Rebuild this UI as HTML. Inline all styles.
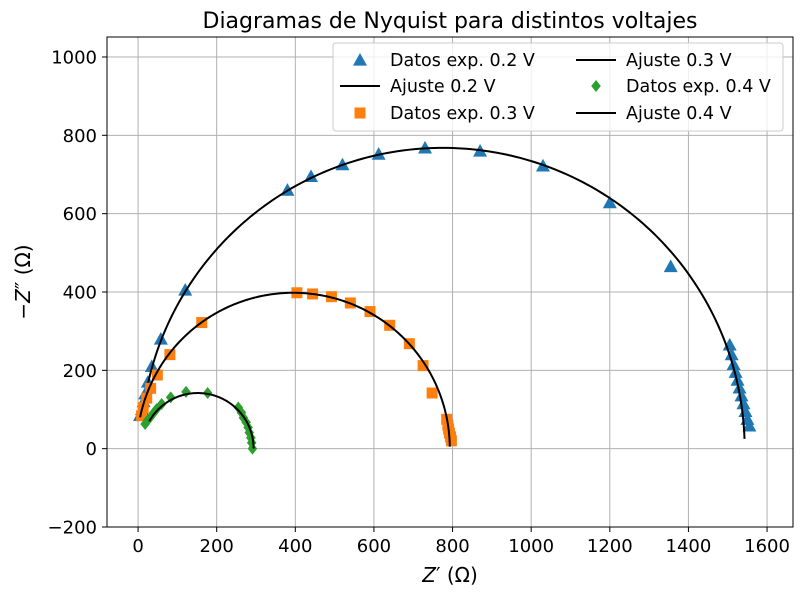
<!DOCTYPE html>
<html><head><meta charset="utf-8"><style>
body{margin:0;background:#fff;font-family:"Liberation Sans","DejaVu Sans",sans-serif;}
svg text{font-family:"DejaVu Sans","Liberation Sans",sans-serif;}
</style></head><body>
<svg id="chart" width="802" height="596" xmlns="http://www.w3.org/2000/svg"></svg>
<script>
const xTicks=[0,200,400,600,800,1000,1200,1400,1600];
const yTicks=[-200,0,200,400,600,800,1000];
const x02=[5,10,14,18,25,35,58,120,380,440,520,612,730,870,1030,1200,1355,1505,1510,1515,1520,1525,1530,1535,1540,1545,1550,1555];
const y02=[85,100,120,140,170,210,280,405,660,695,725,752,768,760,722,628,465,265,240,215,195,175,155,135,115,95,75,58];
const x03=[9,13,22,32,49,81,162,404,444,492,540,590,640,690,725,748,785,788,790,792,795,797];
const y03=[84,105,129,154,188,240,322,398,395,388,372,350,315,268,212,142,75,60,50,40,30,20];
const x04=[18,24,31,40,47,60,83,122,177,255,263,268,275,280,283,287,289,291];
const y04=[63,72,80,92,101,114,131,145,142,105,92,79,67,54,41,28,15,0];
const fitCx=[775,395,152];
const fitR=[768,398,142];
const fitYStart=[75,80,70];
const fitYEnd=[25,5,0];
const NS="http://www.w3.org/2000/svg";
const svg=document.getElementById('chart');
const L=107,R=793,T=37,B=527;
const xmin=-79,xmax=1666,ymin=-200,ymax=1051;
const sx=v=>L+(v-xmin)/(xmax-xmin)*(R-L);
const sy=v=>B-(v-ymin)/(ymax-ymin)*(B-T);
function el(t,a,p){const e=document.createElementNS(NS,t);for(const k in a)e.setAttribute(k,a[k]);(p||svg).appendChild(e);return e;}
const grid=el('g',{});


xTicks.forEach(v=>{
 const g=el('line',{x1:sx(v),x2:sx(v),y1:T,y2:B,stroke:'#b0b0b0','stroke-width':1},grid);
 
 
 el('line',{x1:sx(v),x2:sx(v),y1:B,y2:B+5,stroke:'#000'});
 const t=el('text',{x:sx(v),y:B+25,'text-anchor':'middle','font-size':18});
 t.textContent=v<0?'−'+(-v):v;
 
 
});
yTicks.forEach(v=>{
 const g=el('line',{x1:L,x2:R,y1:sy(v),y2:sy(v),stroke:'#b0b0b0','stroke-width':1},grid);
 
 
 el('line',{x1:L-5,x2:L,y1:sy(v),y2:sy(v),stroke:'#000'});
 const t=el('text',{x:L-10,y:sy(v)+6.5,'text-anchor':'end','font-size':18});
 t.textContent=v<0?'−'+(-v):v;
 
 
});
function fit(i,name){
 const cx=fitCx[i],r=fitR[i];
 const a0=Math.PI-Math.asin(fitYStart[i]/r),a1=Math.asin(fitYEnd[i]/r);
 let d='';
 for(let k=0;k<=200;k++){const a=a0+(a1-a0)*k/200;d+=(k?'L':'M')+sx(cx+r*Math.cos(a)).toFixed(2)+','+sy(r*Math.sin(a)).toFixed(2);}
 const p=el('path',{d:d,fill:'none',stroke:'#000','stroke-width':2});
 
 
}
function tri(x,y,s,c,p){return el('polygon',{points:`${x},${y-s} ${x-s},${y+s*0.8} ${x+s},${y+s*0.8}`,fill:c},p);}
function sq(x,y,s,c,p){return el('rect',{x:x-s,y:y-s,width:2*s,height:2*s,fill:c},p);}
function dia(x,y,s,c,p){return el('polygon',{points:`${x},${y-s} ${x+s*0.8},${y} ${x},${y+s} ${x-s*0.8},${y}`,fill:c},p);}
const g2=el('g',{});


x02.forEach((v,i)=>{const m=tri(sx(v),sy(y02[i]),7,'#1f77b4',g2);
 
 });
fit(0,'fit-0.2V');
const g3=el('g',{});


x03.forEach((v,i)=>{const m=sq(sx(v),sy(y03[i]),5.5,'#ff7f0e',g3);
 
 });
fit(1,'fit-0.3V');
const g4=el('g',{});


x04.forEach((v,i)=>{const m=dia(sx(v),sy(y04[i]),6,'#2ca02c',g4);
 
 });
fit(2,'fit-0.4V');
el('rect',{x:L,y:T,width:R-L,height:B-T,fill:'none',stroke:'#000','stroke-width':1});
const tt=el('text',{x:(L+R)/2,y:28,'text-anchor':'middle','font-size':22});
tt.textContent='Diagramas de Nyquist para distintos voltajes';


const xl=el('text',{x:(L+R)/2,y:582,'text-anchor':'middle','font-size':20});
xl.innerHTML='<tspan font-style="italic">Z</tspan>′ (Ω)';


const yl=el('text',{x:0,y:0,'text-anchor':'middle','font-size':20,transform:`translate(30,${(T+B)/2}) rotate(-90)`});
yl.innerHTML='−<tspan font-style="italic">Z</tspan>″ (Ω)';


const lg=el('g',{});


el('rect',{x:333,y:43,width:450,height:88,rx:3,fill:'#fff','fill-opacity':0.8,stroke:'#ccc'},lg);
const items=[['tri','#1f77b4','Datos exp. 0.2 V',353,60],['line','#000','Ajuste 0.2 V',353,86],['sq','#ff7f0e','Datos exp. 0.3 V',353,113],
 ['line','#000','Ajuste 0.3 V',589,60],['dia','#2ca02c','Datos exp. 0.4 V',589,86],['line','#000','Ajuste 0.4 V',589,113]];
items.forEach(it=>{
 const [k,c,lab,x,y]=it;
 const cxm=x+7;
 if(k==='line')el('line',{x1:x-13,x2:x+27,y1:y,y2:y,stroke:c,'stroke-width':2},lg);
 else if(k==='tri')tri(cxm,y,7,c,lg);
 else if(k==='sq')sq(cxm,y,5.5,c,lg);
 else dia(cxm,y,6,c,lg);
 const t=el('text',{x:x+37,y:y+6,'font-size':17.5},lg);
 t.textContent=lab;
 
 
});
</script>
</body></html>
